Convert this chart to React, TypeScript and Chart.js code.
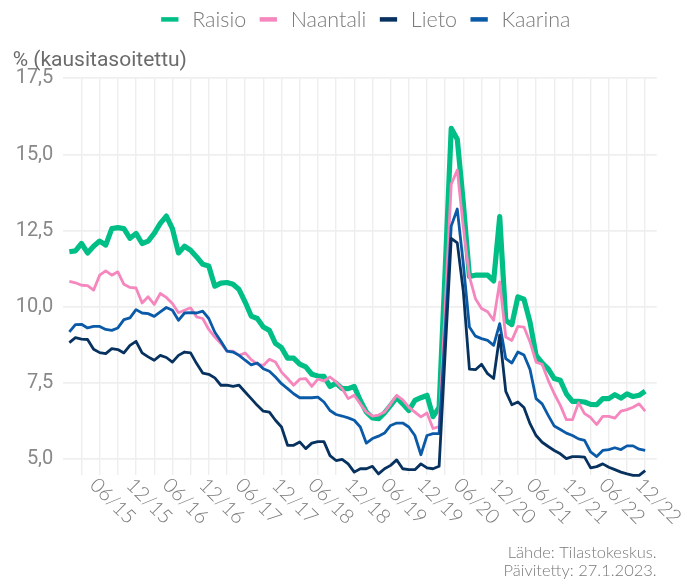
import React, { useEffect, useRef } from 'react';
import { Chart, registerables } from 'chart.js';

Chart.register(...registerables);

// Monthly values, 01/2015 ... 12/2022 (index 0 = 01/2015)
const raisio = [
  11.81, 11.84, 12.08, 11.77, 11.99, 12.16, 12.03, 12.57, 12.6, 12.57, 12.25, 12.41,
  12.08, 12.16, 12.41, 12.74, 12.98, 12.57, 11.77, 11.99, 11.86, 11.64, 11.4, 11.34,
  10.68, 10.78, 10.8, 10.74, 10.57, 10.16, 9.7, 9.62, 9.34, 9.23, 8.8, 8.66,
  8.32, 8.32, 8.12, 8.03, 7.79, 7.73, 7.72, 7.39, 7.5, 7.32, 7.32, 7.39,
  6.93, 6.55, 6.36, 6.33, 6.52, 6.77, 7.02, 6.82, 6.6, 6.93, 7.02, 7.1,
  6.4, 6.7, 11.2, 15.86, 15.5, 13.4, 11.0, 11.04, 11.04, 11.04, 10.85, 12.96,
  9.56, 9.42, 10.33, 10.25, 9.5, 8.41, 8.16, 7.97, 7.65, 7.59, 7.15, 6.9,
  6.9, 6.88, 6.8, 6.79, 6.99, 6.99, 7.12, 7.01, 7.15, 7.06, 7.1, 7.24,
];
const naantali = [
  10.84, 10.79, 10.71, 10.7, 10.55, 11.04, 11.18, 11.04, 11.15, 10.74, 10.64, 10.62,
  10.13, 10.33, 10.08, 10.44, 10.31, 10.11, 9.81, 9.89, 9.97, 9.67, 9.62, 9.26,
  9.01, 8.8, 8.55, 8.55, 8.41, 8.49, 8.27, 8.12, 8.08, 8.28, 8.19, 7.86,
  7.65, 7.43, 7.63, 7.65, 7.39, 7.63, 7.57, 7.7, 7.54, 7.32, 6.99, 7.1,
  6.82, 6.55, 6.42, 6.45, 6.55, 6.82, 7.1, 6.95, 6.71, 6.55, 6.39, 6.52,
  6.01, 6.07, 10.0, 14.02, 14.49, 12.6, 10.99, 10.27, 9.95, 9.84, 9.56, 10.82,
  9.01, 8.9, 9.36, 9.34, 8.85, 8.19, 8.12, 7.59, 7.15, 6.77, 6.3, 6.3,
  6.85, 6.5, 6.37, 6.14, 6.41, 6.41, 6.35, 6.58, 6.63, 6.71, 6.82, 6.58,
];
const lieto = [
  8.83, 8.99, 8.94, 8.93, 8.61, 8.5, 8.47, 8.63, 8.6, 8.49, 8.74, 8.87,
  8.49, 8.36, 8.25, 8.41, 8.34, 8.19, 8.41, 8.52, 8.49, 8.14, 7.83, 7.79,
  7.67, 7.43, 7.43, 7.39, 7.43, 7.21, 6.99, 6.77, 6.58, 6.55, 6.28, 6.06,
  5.46, 5.46, 5.57, 5.35, 5.53, 5.58, 5.58, 5.12, 4.96, 5.0, 4.85, 4.58,
  4.69, 4.69, 4.77, 4.52, 4.69, 4.8, 4.98, 4.69, 4.66, 4.66, 4.85, 4.72,
  4.69, 4.77, 8.5, 12.25, 12.1, 10.5, 7.96, 7.94, 8.12, 7.81, 7.65, 9.07,
  7.23, 6.79, 6.88, 6.7, 6.17, 5.78, 5.56, 5.42, 5.29, 5.18, 5.02, 5.09,
  5.09, 5.07, 4.72, 4.76, 4.85, 4.74, 4.66, 4.58, 4.52, 4.47, 4.47, 4.63,
];
const kaarina = [
  9.18, 9.42, 9.43, 9.31, 9.36, 9.36, 9.26, 9.23, 9.31, 9.58, 9.64, 9.91,
  9.8, 9.78, 9.69, 9.84, 9.98, 9.89, 9.56, 9.8, 9.81, 9.8, 9.86, 9.62,
  9.17, 8.87, 8.55, 8.52, 8.41, 8.25, 8.1, 8.16, 7.97, 7.89, 7.7, 7.48,
  7.32, 7.15, 7.02, 7.02, 7.02, 7.04, 6.88, 6.6, 6.47, 6.42, 6.36, 6.28,
  6.06, 5.53, 5.68, 5.76, 5.86, 6.11, 6.19, 6.19, 6.06, 5.78, 5.15, 5.78,
  5.84, 5.84, 9.2, 12.65, 13.21, 11.4, 9.34, 9.04, 8.96, 8.9, 8.74, 9.45,
  8.3, 8.16, 8.52, 8.42, 7.95, 6.99, 6.82, 6.44, 6.09, 5.98, 5.86, 5.78,
  5.67, 5.62, 5.24, 5.09, 5.29, 5.32, 5.38, 5.32, 5.44, 5.44, 5.33, 5.29,
];

const seriesNames = ['Raisio', 'Naantali', 'Lieto', 'Kaarina'];
const seriesColors = ['#00BF86', '#F587BE', '#07325F', '#0A5AA8'];
const seriesWidths = [5.2, 2.8, 2.8, 2.8];
const seriesValues = [raisio, naantali, lieto, kaarina];
const seriesOrder = [4, 3, 1, 2];

const xLabels = ['06/15', '12/15', '06/16', '12/16', '06/17', '12/17', '06/18', '12/18',
  '06/19', '12/19', '06/20', '12/20', '06/21', '12/21', '06/22', '12/22'];
const xLabelMonths = [5, 11, 17, 23, 29, 35, 41, 47, 53, 59, 65, 71, 77, 83, 89, 95];
const xGridMonths = [2, 5, 8, 11, 14, 17, 20, 23, 26, 29, 32, 35, 38, 41, 44, 47,
  50, 53, 56, 59, 62, 65, 68, 71, 74, 77, 80, 83, 86, 89, 92, 95];
const yTicks = [5, 7.5, 10, 12.5, 15, 17.5];

const yTitle = '% (kausitasoitettu)';
const footer = ['Lähde: Tilastokeskus.', 'Päivitetty: 27.1.2023.'];

const overlay = {
  id: 'overlay',
  afterDraw(chart: any) {
    const { ctx, chartArea, scales } = chart;
    ctx.save();

    // Legend
    ctx.font = '300 21.5px Lato';
    ctx.textBaseline = 'middle';
    ctx.textAlign = 'left';
    const boxW = 17.3, boxH = 4.5, gapBT = 13.7, gapTB = 13.5;
    const widths = seriesNames.map((n) => ctx.measureText(n).width);
    let total = 0;
    widths.forEach((w, i) => { total += boxW + gapBT + w + (i > 0 ? gapTB : 0); });
    let x = 365.8 - total / 2;
    const ly = 19.4;
    seriesNames.forEach((n, i) => {
      ctx.fillStyle = seriesColors[i];
      ctx.fillRect(x, ly - boxH / 2, boxW, boxH);
      x += boxW + gapBT;
      ctx.fillStyle = '#7a7a7a';
      ctx.fillText(n, x, ly + 0.5);
      x += widths[i] + gapTB;
    });

    // Y title
    ctx.font = '400 21px Roboto';
    ctx.fillStyle = '#6b6b6b';
    ctx.textBaseline = 'alphabetic';
    ctx.fillText(yTitle, 12.7, 66.3);

    // X tick labels, rotated
    const xs = scales.x;
    ctx.font = '300 20px Lato';
    ctx.fillStyle = '#7a7a7a';
    ctx.textBaseline = 'middle';
    xLabels.forEach((lab, i) => {
      const px = xs.getPixelForValue(xLabelMonths[i]);
      ctx.save();
      ctx.translate(px - 6.3, chartArea.bottom + 6.8);
      ctx.rotate(Math.PI / 4);
      ctx.fillText(lab, 0, 0);
      ctx.restore();
    });

    // Footer
    ctx.font = '300 16.5px Lato';
    ctx.fillStyle = '#7a7a7a';
    ctx.textAlign = 'right';
    ctx.textBaseline = 'middle';
    ctx.fillText(footer[0], chartArea.right, 553);
    ctx.fillText(footer[1], chartArea.right, 570.5);

    ctx.restore();
  },
};

export default function App() {
  const ref = useRef<HTMLCanvasElement | null>(null);

  useEffect(() => {
    if (!ref.current) return;
    const chart = new Chart(ref.current, {
      type: 'line',
      data: {
        datasets: seriesNames.map((name, k) => ({
          label: name,
          data: seriesValues[k].map((y, i) => ({ x: i, y })),
          borderColor: seriesColors[k],
          backgroundColor: seriesColors[k],
          borderWidth: seriesWidths[k],
          pointRadius: 0,
          pointHoverRadius: 0,
          tension: 0,
          borderJoinStyle: 'round' as const,
          borderCapStyle: 'butt' as const,
          order: seriesOrder[k],
          clip: false as any,
        })),
      },
      options: {
        animation: false,
        responsive: false,
        maintainAspectRatio: false,
        events: [],
        layout: { padding: { top: 78.3, left: 0, right: 35.3, bottom: 108 } },
        plugins: {
          legend: { display: false },
          title: { display: false },
          tooltip: { enabled: false },
        },
        scales: {
          x: {
            type: 'linear',
            min: -1,
            max: 96.9,
            afterBuildTicks: (s: any) => { s.ticks = xGridMonths.map((v) => ({ value: v })); },
            afterFit: (s: any) => { s.height = 0; },
            ticks: { display: false },
            grid: { color: '#eeeeee', lineWidth: 1.4, drawTicks: false },
            border: { display: false },
          },
          y: {
            type: 'linear',
            min: 4.485,
            max: 17.5,
            afterBuildTicks: (s: any) => { s.ticks = yTicks.map((v) => ({ value: v })); },
            afterFit: (s: any) => { s.width = 63.3; },
            ticks: {
              padding: 10,
              color: '#888888',
              font: { family: 'Roboto', size: 20, weight: '400' as any },
              callback: (v: any) => Number(v).toFixed(1).replace('.', ','),
            },
            grid: { color: '#efefef', lineWidth: 1.8, drawTicks: false },
            border: { display: false },
          },
        },
      },
      plugins: [overlay],
    });
    return () => chart.destroy();
  }, []);

  return (
    <div style={{ position: 'absolute', left: 0, top: 0, width: 692, height: 583, background: '#fff' }}>
      <canvas ref={ref} width={692} height={583} style={{ width: 692, height: 583, display: 'block' }} />
    </div>
  );
}
